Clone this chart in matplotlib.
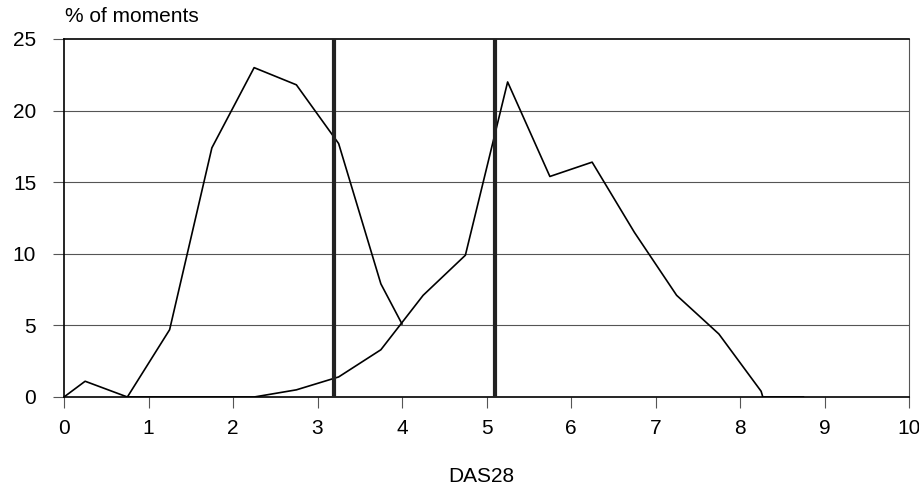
import matplotlib
matplotlib.use("Agg")
import matplotlib.pyplot as plt

plt.rcParams['font.family'] = ['Liberation Sans', 'DejaVu Sans']

# Low-activity distribution
low_x = [0, 0.25, 0.75, 1.25, 1.75, 2.25, 2.75, 3.25, 3.75, 4.0]
low_y = [0, 1.1, 0, 4.7, 17.4, 23.0, 21.8, 17.7, 7.9, 5.1]

# High-activity distribution
high_x = [0.75, 2.25, 2.75, 3.25, 3.75, 4.25, 4.75, 5.25, 5.75, 6.25, 6.75, 7.25, 7.75, 8.25, 8.27, 8.75]
high_y = [0, 0, 0.5, 1.4, 3.3, 7.1, 9.9, 22.0, 15.4, 16.4, 11.5, 7.1, 4.4, 0.4, 0, 0]

thresholds = [3.2, 5.1]
x_ticks = list(range(0, 11))
y_ticks = [0, 5, 10, 15, 20, 25]

fig = plt.figure(figsize=(9.2, 4.88), dpi=100)
ax = fig.add_axes([64/920, 1 - 397/488, (909-64)/920, (397-39)/488])

for y in y_ticks[1:-1]:
    ax.axhline(y, color='#555555', lw=0.8, zorder=1)

ax.plot(low_x, low_y, color='black', lw=1.2, zorder=3)
ax.plot(high_x, high_y, color='black', lw=1.2, zorder=3)
for t in thresholds:
    ax.axvline(t, color='#222222', lw=3, zorder=4)

ax.set_xlim(0, 10)
ax.set_ylim(0, 25)
ax.set_xticks(x_ticks)
ax.set_yticks(y_ticks)
ax.tick_params(axis='both', direction='out', length=8, width=0.8, color='#555555',
               labelsize=15)
ax.tick_params(axis='x', pad=8)
ax.tick_params(axis='y', pad=12)
for s in ['left', 'bottom', 'top']:
    ax.spines[s].set_color('black')
    ax.spines[s].set_linewidth(1.2)
ax.spines['right'].set_color('#555555')
ax.spines['right'].set_linewidth(0.8)

fig.text(65/920, 1 - 16/488, '% of moments', fontsize=15, ha='left', va='center')
fig.text(481/920, 1 - 477/488, 'DAS28', fontsize=15, ha='center', va='center')

fig.savefig('out.png', dpi=100)
